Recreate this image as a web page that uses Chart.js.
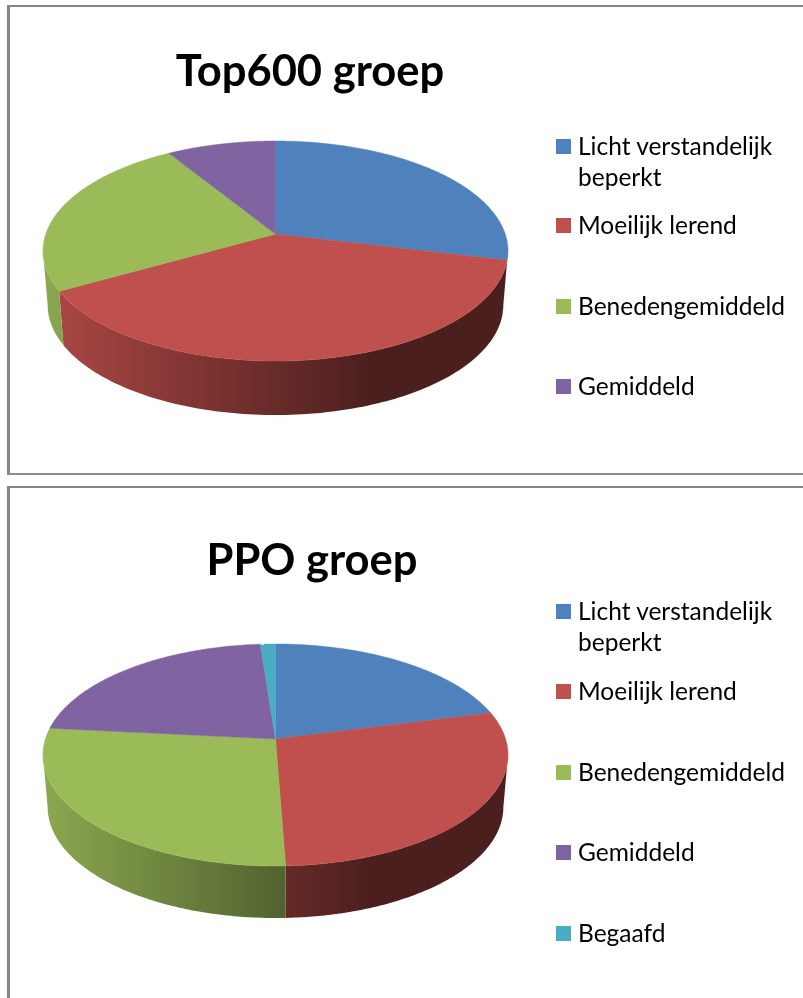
<!DOCTYPE html>
<html>
<head>
<meta charset="utf-8">
<title>Top600 en PPO groep</title>
<script src="https://cdn.jsdelivr.net/npm/chart.js@4"></script>
<style>
    html, body { margin: 0; padding: 0; background: #fff; overflow: hidden; }
    #page { position: relative; width: 803px; height: 998px; overflow: hidden; font-family: Lato, sans-serif; color: #000; filter: blur(0.35px); }
    canvas { position: absolute; left: 0; }
    .frame { position: absolute; left: 7px; width: 820px; box-sizing: border-box; border: 0 solid #868686; border-left-width: 3px; border-top-width: 2px; }
    .titel { position: absolute; font-weight: 700; font-size: 43.5px; line-height: 50px; white-space: nowrap; transform: translateX(-50%); }
    .blokje { position: absolute; left: 556px; width: 15px; height: 15px; }
    .tekst { position: absolute; left: 578px; font-size: 24.5px; line-height: 30px; white-space: nowrap; }
</style>
</head>
<body>
<div id="page">
    <div class="frame" style="top:5px;height:470px;border-bottom:2px solid #8c8c8c"></div>
    <div class="frame" style="top:486px;height:530px"></div>
    <canvas id="top600" width="803" height="480" style="top:0"></canvas>
    <canvas id="ppo" width="803" height="518" style="top:480px"></canvas>
</div>
<script>
const labelsTop600 = ['Licht verstandelijk beperkt', 'Moeilijk lerend', 'Benedengemiddeld', 'Gemiddeld'];
const valuesTop600 = [28.8, 38.0, 24.4, 8.8];
const labelsPpo = ['Licht verstandelijk beperkt', 'Moeilijk lerend', 'Benedengemiddeld', 'Gemiddeld', 'Begaafd'];
const valuesPpo = [21.0, 28.4, 27.2, 22.2, 1.2];
const colors = ['#4F81BD', '#C0504D', '#9BBB59', '#8064A2', '#4BACC6'];

// legend rows, page y of each row centre
const rowsTop600 = [146, 225, 306, 386];
const rowsPpo = [611, 691, 772, 852, 933];

function shade(hex, f) {
    const n = parseInt(hex.slice(1), 16);
    return `rgb(${Math.round((n >> 16) * f)},${Math.round(((n >> 8) & 255) * f)},${Math.round((n & 255) * f)})`;
}

// the pie is seen in perspective: apex not in the middle of the ellipse
function project(o, a, scale = 1, drop = 0) {
    const t = a + Math.PI / 2;
    const u = Math.sin(t), v = Math.cos(t);
    const w = 1 + o.p * v;
    return [o.cx + (o.b * u / w) * scale, o.cy - o.a * v / w + drop];
}

const pie3d = {
    id: 'pie3d',
    beforeDatasetsDraw(chart, args, o) {
        const ctx = chart.ctx;
        const arcs = chart.getDatasetMeta(0).data;
        const steps = 120;

        // side wall first, the top faces go over it
        // only between the silhouette points, past them the band folds and cancels out
        const from = Math.asin(o.p), to = Math.PI - Math.asin(o.p);
        arcs.forEach(arc => {
            const s = Math.max(arc.startAngle, from), e = Math.min(arc.endAngle, to);
            if (e <= s) return;
            const col = arc.options.backgroundColor;
            const g = ctx.createLinearGradient(43, 0, 372, 0);
            g.addColorStop(0, shade(col, 0.9));
            g.addColorStop(1, shade(col, 0.39));
            ctx.beginPath();
            for (let i = 0; i <= steps; i++) {
                const p = project(o, s + (e - s) * i / steps);
                ctx.lineTo(p[0], p[1]);
            }
            for (let i = steps; i >= 0; i--) {
                const p = project(o, s + (e - s) * i / steps, o.shrink, o.depth);
                ctx.lineTo(p[0], p[1]);
            }
            ctx.closePath();
            ctx.fillStyle = g;
            ctx.fill();
        });

        arcs.forEach(arc => {
            const s = arc.startAngle, e = arc.endAngle;
            ctx.beginPath();
            ctx.moveTo(o.cx, o.cy);
            for (let i = 0; i <= steps; i++) {
                const p = project(o, s + (e - s) * i / steps);
                ctx.lineTo(p[0], p[1]);
            }
            ctx.closePath();
            ctx.fillStyle = arc.options.backgroundColor;
            ctx.strokeStyle = arc.options.backgroundColor;
            ctx.lineWidth = 0.5;
            ctx.fill();
            ctx.stroke();
        });
        return false;
    }
};

function makePie(id, labels, values, shape) {
    new Chart(document.getElementById(id), {
        type: 'pie',
        data: {
            labels: labels,
            datasets: [{ data: values, backgroundColor: colors.slice(0, values.length), borderWidth: 0 }]
        },
        options: {
            responsive: false,
            animation: false,
            events: [],
            plugins: { legend: { display: false }, tooltip: { enabled: false }, pie3d: shape }
        },
        plugins: [pie3d]
    });
}

function addText(cls, text, style) {
    const el = document.createElement('div');
    el.className = cls;
    el.textContent = text;
    el.style.cssText = style;
    document.getElementById('page').appendChild(el);
}

function makeLegend(labels, rows) {
    labels.forEach((label, i) => {
        addText('blokje', '', `top:${rows[i] - 7.5}px;background:${colors[i]}`);
        if (label === 'Licht verstandelijk beperkt') {
            addText('tekst', 'Licht verstandelijk', `top:${rows[i] - 15}px`);
            addText('tekst', 'beperkt', `top:${rows[i] + 15.5}px`);
        } else {
            addText('tekst', label, `top:${rows[i] - 15}px`);
        }
    });
}

makePie('top600', labelsTop600, valuesTop600, { cx: 275.5, cy: 234, p: 0.1546, a: 107.4, b: 229.7, depth: 54, shrink: 0.98 });
makePie('ppo', labelsPpo, valuesPpo, { cx: 275.5, cy: 259, p: 0.1441, a: 108.7, b: 230.1, depth: 52, shrink: 0.98 });

addText('titel', 'Top600 groep', 'left:310px;top:44px');
addText('titel', 'PPO groep', 'left:312px;top:533px');
makeLegend(labelsTop600, rowsTop600);
makeLegend(labelsPpo, rowsPpo);
</script>
</body>
</html>
